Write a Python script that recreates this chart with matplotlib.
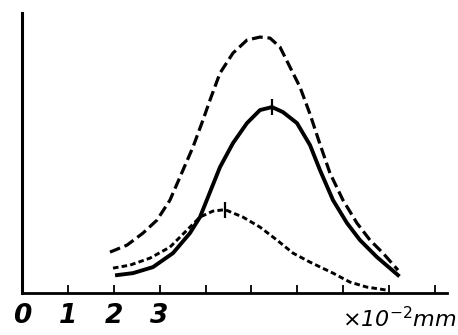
import matplotlib.pyplot as plt
import numpy as np

# curves (x in 10^-2 mm, y in arbitrary units 0..10)
x_dash = [1.917, 2.288, 2.636, 2.941, 3.224, 3.508, 3.725, 3.943, 4.096, 4.314, 4.597,
          4.902, 5.185, 5.403, 5.621, 5.839, 6.057, 6.275, 6.492, 6.710, 6.993, 7.298,
          7.582, 7.865, 8.192]
y_dash = [1.464, 1.714, 2.143, 2.607, 3.321, 4.393, 5.214, 6.179, 6.893, 7.857, 8.571,
          9.036, 9.143, 9.107, 8.786, 8.071, 7.357, 6.393, 5.321, 4.286, 3.321, 2.500,
          1.893, 1.429, 0.821]

x_solid = [2.070, 2.418, 2.854, 3.290, 3.660, 3.878, 4.096, 4.314, 4.597, 4.902, 5.185,
           5.447, 5.686, 5.991, 6.275, 6.492, 6.776, 7.081, 7.364, 7.734, 8.192]
y_solid = [0.643, 0.714, 0.929, 1.429, 2.143, 2.714, 3.607, 4.500, 5.357, 6.071, 6.536,
           6.643, 6.464, 6.071, 5.286, 4.393, 3.321, 2.500, 1.893, 1.286, 0.643]

x_dot = [1.983, 2.353, 2.789, 3.224, 3.595, 3.878, 4.161, 4.423, 4.815, 5.185, 5.556,
         5.904, 6.275, 6.776, 7.146, 7.516, 7.952]
y_dot = [0.893, 1.000, 1.250, 1.643, 2.250, 2.714, 2.930, 2.980, 2.714, 2.357, 1.893,
         1.429, 1.107, 0.714, 0.393, 0.214, 0.107]

xticks = [0, 1, 2, 3, 4, 5, 6, 7, 8, 9]
xticklabels = ["0", "1", "2", "3", "", "", "", "", "", ""]

fig = plt.figure(figsize=(4.58, 3.35), dpi=100)
ax = fig.add_axes([0.048, 0.125, 0.928, 0.836])

ax.plot(x_dash, y_dash, color="k", lw=2.3, dashes=(3.4, 1.5), solid_joinstyle="round")
ax.plot(x_solid, y_solid, color="k", lw=2.8, solid_joinstyle="round")
ax.plot(x_dot, y_dot, color="k", lw=2.1, dashes=(1.9, 1.1))

# small vertical marks at the peaks of solid and dotted curves
for xs, ys in [(x_solid, y_solid), (x_dot, y_dot)]:
    i = int(np.argmax(ys))
    ax.plot(xs[i], ys[i], marker="|", ms=12, mew=1.6, color="k")

ax.set_xlim(0, 9.26)
ax.set_ylim(0, 10)
ax.set_yticks([])
ax.set_xticks(xticks)
ax.set_xticklabels(xticklabels, fontsize=19, fontstyle="italic",
                   fontfamily="Liberation Sans Narrow", fontweight="bold")
ax.tick_params(axis="x", direction="in", length=6, width=1.3, pad=7)
ax.spines["top"].set_visible(False)
ax.spines["right"].set_visible(False)
ax.spines["left"].set_linewidth(2.2)
ax.spines["bottom"].set_linewidth(2.0)

ax.text(1.022, -0.045, r"$\times$10$^{-2}$mm", transform=ax.transAxes,
        ha="right", va="top", fontsize=16, fontstyle="italic",
        fontfamily="Liberation Sans Narrow")

fig.savefig("out.png", dpi=100)
